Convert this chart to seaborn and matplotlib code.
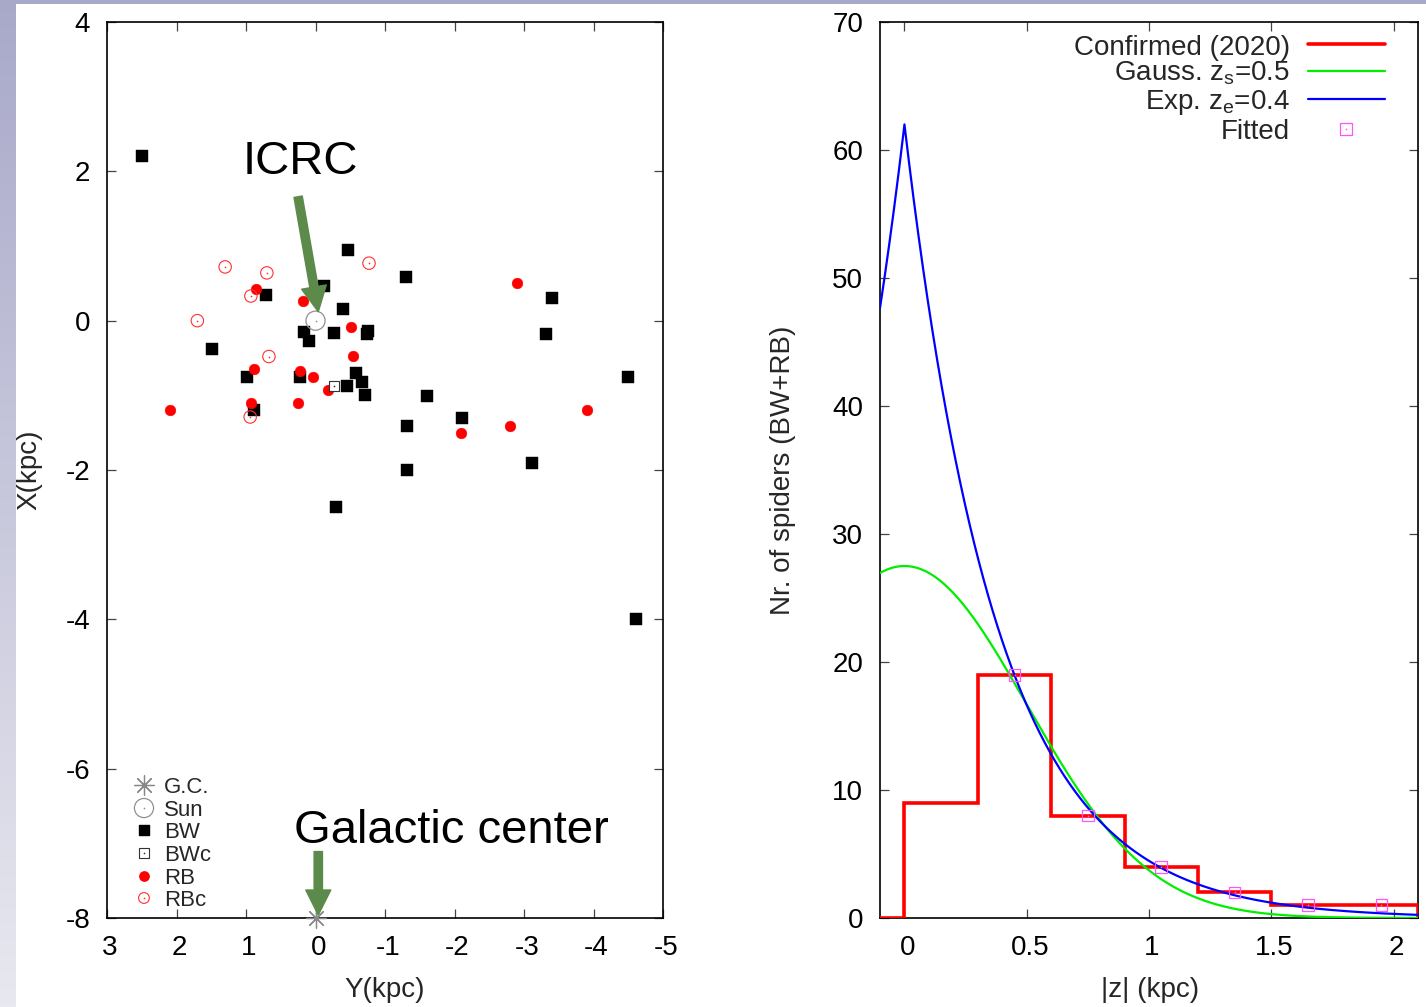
import numpy as np
import pandas as pd
import matplotlib
matplotlib.use("Agg")
import matplotlib.pyplot as plt
import matplotlib.transforms as mtransforms
import seaborn as sns

# ---------------- data ----------------
# Spider pulsars projected on the Galactic plane (kpc)
bw_y = [2.49, -0.47, -1.30, -3.40, 0.71, -0.12, -0.40, 0.17, 0.10, -0.27, -0.75, -0.74,
        1.49, 0.98, 0.22, -0.58, -0.67, -0.45, -0.71, 0.88, -3.31, -4.50, -1.60, -2.11,
        -1.31, -3.11, -1.31, -0.30, -4.61]
bw_x = [2.20, 0.94, 0.58, 0.30, 0.35, 0.46, 0.15, -0.15, -0.27, -0.16, -0.14, -0.18,
        -0.38, -0.75, -0.75, -0.70, -0.82, -0.87, -1.00, -1.20, -0.18, -0.75, -1.01, -1.30,
        -1.41, -1.90, -2.00, -2.50, -4.00]
bwc_y = [-0.27]
bwc_x = [-0.87]
rb_y = [0.85, 0.18, -0.51, -0.54, 0.89, 0.23, 0.03, -0.18, 0.93, 0.25, 2.10, -2.90, -3.90, -2.80, -2.10]
rb_x = [0.43, 0.27, -0.08, -0.47, -0.65, -0.68, -0.75, -0.93, -1.10, -1.10, -1.20, 0.51, -1.20, -1.41, -1.50]
rbc_y = [1.30, 0.70, 0.93, 1.70, 0.67, -0.77, 0.94]
rbc_x = [0.72, 0.64, 0.33, 0.00, -0.48, 0.77, -1.29]
sun_yx = (0.0, 0.0)
gc_yx = (0.0, -8.0)

# |z| distribution of confirmed spiders (bins of 0.3 kpc)
z_edges = [0.0, 0.3, 0.6, 0.9, 1.2, 1.5, 1.8, 2.1]
z_counts = [9, 19, 8, 4, 2, 1, 1]
fit_z = [0.45, 0.75, 1.05, 1.35, 1.65, 1.95]
fit_n = [19, 8, 4, 2, 1, 1]

# vertical distribution models (amplitude, scale height as drawn)
gauss_amp, gauss_zs = 27.5, 0.5
exp_amp, exp_ze = 62.0, 0.38

left_xticks = [3, 2, 1, 0, -1, -2, -3, -4, -5]
left_yticks = [4, 2, 0, -2, -4, -6, -8]
right_xticks = [0, 0.5, 1, 1.5, 2]
right_yticks = [0, 10, 20, 30, 40, 50, 60, 70]

# ---------------- style ----------------
sns.set_theme(style="ticks")
plt.rcParams["font.family"] = ["Liberation Sans", "DejaVu Sans"]
plt.rcParams["mathtext.fontset"] = "custom"
plt.rcParams["mathtext.rm"] = "Liberation Sans"
plt.rcParams["mathtext.default"] = "regular"

FS = 20
fig = plt.figure(figsize=(14.26, 10.07), dpi=100)
fig.patch.set_facecolor("white")

# slide background strips
strip = fig.add_axes([0, 0, 16 / 1426, 1])
grad = np.linspace(0, 1, 256)[:, None]
top_c = np.array([0.66, 0.66, 0.79])
bot_c = np.array([0.91, 0.91, 0.94])
img = top_c[None, None, :] * (1 - grad[..., None]) + bot_c[None, None, :] * grad[..., None]
strip.imshow(img, aspect="auto", extent=[0, 1, 0, 1])
strip.set_axis_off()
top = fig.add_axes([0, 1 - 4 / 1007, 1, 4 / 1007])
top.set_facecolor((0.66, 0.66, 0.79))
top.set_xticks([]); top.set_yticks([])
for s in top.spines.values():
    s.set_visible(False)

ax1 = fig.add_axes([107 / 1426, 89 / 1007, 556 / 1426, 896 / 1007])
ax2 = fig.add_axes([880 / 1426, 89 / 1007, 538 / 1426, 896 / 1007])

for ax in (ax1, ax2):
    ax.set_facecolor("white")
    for s in ax.spines.values():
        s.set_visible(True)
        s.set_linewidth(1.2)
        s.set_color("black")
    ax.tick_params(direction="in", length=6.5, width=0.9, color="#444444",
                   top=True, right=True, labelsize=FS, pad=12, labelcolor="black")
    ax.grid(False)

# ---------------- left panel: positions ----------------
dot_kw = dict(marker="o", s=1.5, linewidth=0, zorder=5)

sns.scatterplot(x=bw_y, y=bw_x, ax=ax1, marker="s", s=75, color="black",
                edgecolor="black", linewidth=0.3, zorder=4)
sns.scatterplot(x=rb_y, y=rb_x, ax=ax1, marker="o", s=60, color="red",
                edgecolor="red", linewidth=0.3, zorder=4)
ax1.scatter(rbc_y, rbc_x, marker="o", s=80, facecolors="none", edgecolors="#ff3030",
            linewidths=0.8, zorder=4)
ax1.scatter(rbc_y, rbc_x, color="#ff3030", **dot_kw)
ax1.scatter(bwc_y, bwc_x, marker="s", s=55, facecolors="white", edgecolors="#333333",
            linewidths=0.8, zorder=4)
ax1.scatter(bwc_y, bwc_x, color="#333333", **dot_kw)
ax1.scatter([sun_yx[0]], [sun_yx[1]], marker="o", s=190, facecolors="none",
            edgecolors="#909090", linewidths=0.9, zorder=4)
ax1.scatter([sun_yx[0]], [sun_yx[1]], color="#909090", **dot_kw)
ax1.scatter([gc_yx[0]], [gc_yx[1]], marker=(8, 2, 0), s=200, color="#888888",
            linewidths=0.9, zorder=6, clip_on=False)

ax1.set_xlim(3, -5)
ax1.set_ylim(-8, 4)
ax1.set_xticks(left_xticks)
ax1.set_yticks(left_yticks)
ax1.set_xticklabels([str(t) for t in left_xticks])
ax1.set_yticklabels([str(t) for t in left_yticks])
ax1.set_xlabel("Y(kpc)", fontsize=FS, va="center")
ax1.set_ylabel("X(kpc)", fontsize=FS, va="center")
ax1.xaxis.set_label_coords(0.5, -0.080)
ax1.yaxis.set_label_coords(-0.139, 0.5)

# annotations with arrows
arrow_c = "#5b8a4a"
arr_style = "simple,head_length=0.9,head_width=0.9,tail_width=0.3"
ax1.text(0.22, 2.13, "ICRC", fontsize=34, ha="center", va="center", color="black")
ax1.annotate("", xy=(-0.04, 0.12), xytext=(0.25, 1.66),
             arrowprops=dict(arrowstyle=arr_style, mutation_scale=20, color=arrow_c,
                             shrinkA=0, shrinkB=0), zorder=7)
ax1.text(-1.96, -6.83, "Galactic center", fontsize=34, ha="center", va="center", color="black")
ax1.annotate("", xy=(-0.04, -7.96), xytext=(-0.04, -7.11),
             arrowprops=dict(arrowstyle=arr_style, mutation_scale=20, color=arrow_c,
                             shrinkA=0, shrinkB=0), zorder=7, annotation_clip=False)

# key for the position panel
key_rows = [0.1395, 0.1138, 0.0893, 0.0636, 0.0379, 0.0134]
key_labels = ["G.C.", "Sun", "BW", "BWc", "RB", "RBc"]
mx, tx = 0.0665, 0.1025
off = 8 / 896
tr = ax1.transAxes
ax1.scatter([mx], [key_rows[0] + off], transform=tr, marker=(8, 2, 0), s=200,
            color="#888888", linewidths=0.9)
ax1.scatter([mx], [key_rows[1] + off], transform=tr, marker="o", s=190,
            facecolors="none", edgecolors="#909090", linewidths=0.9)
ax1.scatter([mx], [key_rows[1] + off], transform=tr, color="#909090", **dot_kw)
ax1.scatter([mx], [key_rows[2] + off], transform=tr, marker="s", s=55, color="black")
ax1.scatter([mx], [key_rows[3] + off], transform=tr, marker="s", s=45,
            facecolors="none", edgecolors="#333333", linewidths=0.8)
ax1.scatter([mx], [key_rows[3] + off], transform=tr, color="#333333", **dot_kw)
ax1.scatter([mx], [key_rows[4] + off], transform=tr, marker="o", s=45, color="red")
ax1.scatter([mx], [key_rows[5] + off], transform=tr, marker="o", s=60,
            facecolors="none", edgecolors="#ff3030", linewidths=0.8)
ax1.scatter([mx], [key_rows[5] + off], transform=tr, color="#ff3030", **dot_kw)
for yy, lab in zip(key_rows, key_labels):
    ax1.text(tx, yy, lab, transform=tr, fontsize=16, ha="left", va="baseline")

# ---------------- right panel: |z| distribution ----------------
zz = np.linspace(-0.1, 2.1, 2201)
curves = pd.DataFrame({
    "z": zz,
    "gauss": gauss_amp * np.exp(-zz ** 2 / (2 * gauss_zs ** 2)),
    "exp": exp_amp * np.exp(-np.abs(zz) / exp_ze),
})

ax2.stairs([0] + z_counts, [-0.1] + z_edges, baseline=0, color="#ff0000",
           linewidth=2.6, zorder=3)
sns.lineplot(data=curves, x="z", y="gauss", ax=ax2, color="#00ee00", linewidth=1.6,
             zorder=4, sort=False)
sns.lineplot(data=curves, x="z", y="exp", ax=ax2, color="#0000ff", linewidth=1.6,
             zorder=5, sort=False)
ax2.scatter(fit_z, fit_n, marker="s", s=70, facecolors="none", edgecolors="#ff55ff",
            linewidths=0.9, zorder=6)
ax2.scatter(fit_z, fit_n, color="#ff55ff", **dot_kw)

ax2.set_xlim(-0.1, 2.1)
ax2.set_ylim(0, 70)
ax2.set_xticks(right_xticks)
ax2.set_yticks(right_yticks)
ax2.set_xticklabels(["0", "0.5", "1", "1.5", "2"])
ax2.set_yticklabels([str(t) for t in right_yticks])
ax2.set_xlabel("|z| (kpc)", fontsize=FS, va="center")
ax2.set_ylabel("Nr. of spiders (BW+RB)", fontsize=FS, va="center")
ax2.xaxis.set_label_coords(0.502, -0.080)
ax2.yaxis.set_label_coords(-0.180, 0.5)

# nudge x tick labels slightly to the right
shift = mtransforms.ScaledTranslation(3 / 100, 0, fig.dpi_scale_trans)
for ax in (ax1, ax2):
    for lab in ax.get_xticklabels():
        lab.set_transform(lab.get_transform() + shift)

# key for the distribution panel
tr2 = ax2.transAxes
rows2 = [0.9632, 0.9342, 0.9029, 0.8694]
lines2 = [0.9754, 0.9453, 0.9141, 0.8806]
labels2 = ["Confirmed (2020)", "Gauss. $z_s$=0.5", "Exp. $z_e$=0.4", "Fitted"]
colors2 = ["#ff0000", "#00ee00", "#0000ff"]
widths2 = [2.6, 1.6, 1.6]
for yy, lab in zip(rows2, labels2):
    ax2.text(0.762, yy, lab, transform=tr2, fontsize=FS, ha="right", va="baseline")
for yy, c, w in zip(lines2[:3], colors2, widths2):
    ax2.plot([0.796, 0.939], [yy, yy], transform=tr2, color=c, linewidth=w)
ax2.scatter([0.866], [lines2[3]], transform=tr2, marker="s", s=70, facecolors="none",
            edgecolors="#ff55ff", linewidths=0.9)
ax2.scatter([0.866], [lines2[3]], transform=tr2, color="#ff55ff", **dot_kw)

fig.savefig("out.png", dpi=100)
